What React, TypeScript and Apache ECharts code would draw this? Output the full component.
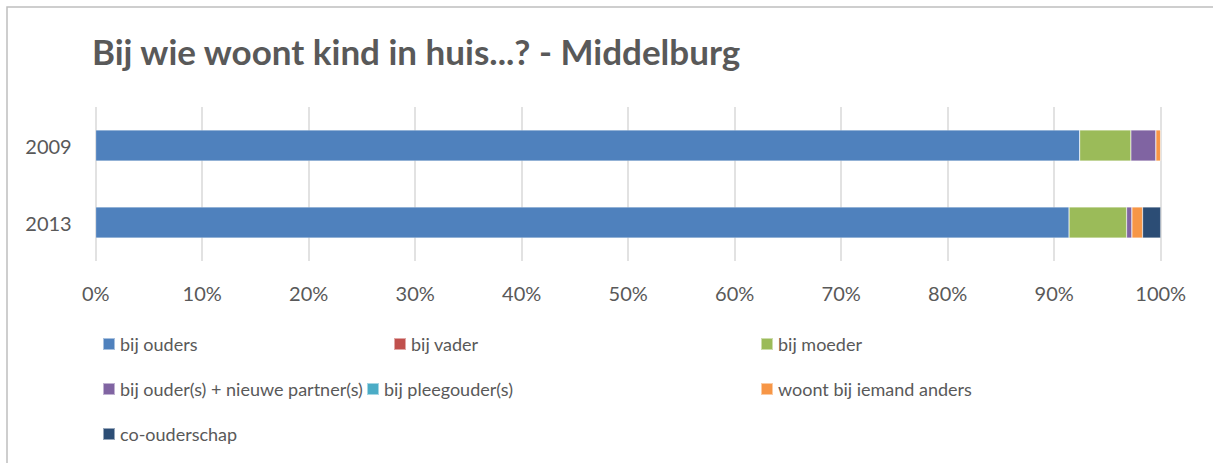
import React, { useEffect, useRef } from "react";
import * as echarts from "echarts";

const categories = ["2009", "2013"];
const seriesNames = [
  "bij ouders",
  "bij vader",
  "bij moeder",
  "bij ouder(s) + nieuwe partner(s)",
  "bij pleegouder(s)",
  "woont bij iemand anders",
  "co-ouderschap",
];
const bijOuders = [92.4, 91.4];
const bijVader = [0, 0];
const bijMoeder = [4.8, 5.4];
const nieuwePartner = [2.35, 0.5];
const pleegouder = [0, 0];
const iemandAnders = [0.45, 1.0];
const coOuderschap = [0, 1.7];
const xTicks = [0, 10, 20, 30, 40, 50, 60, 70, 80, 90, 100];

const colors = ["#4F81BD", "#C0504D", "#9BBB59", "#8064A2", "#4BACC6", "#F79646", "#2C4D75"];
const FONT = "Lato, 'Open Sans', sans-serif";
const TXT = "#595959";

export default function App() {
  const ref = useRef<HTMLDivElement>(null);
  useEffect(() => {
    if (!ref.current) return;
    const chart = echarts.init(ref.current, null, { renderer: "svg" });
    const values = [bijOuders, bijVader, bijMoeder, nieuwePartner, pleegouder, iemandAnders, coOuderschap];
    const legendPos = [
      [102, 346],
      [393, 346],
      [760, 346],
      [102, 391],
      [366, 391],
      [760, 391],
      [102, 436],
    ];
    chart.setOption({
      animation: false,
      backgroundColor: "#ffffff",
      title: {
        text: "Bij wie woont kind in huis...? - Middelburg",
        left: 87,
        top: 28,
        textStyle: { fontFamily: FONT, fontWeight: "bold", fontSize: 35, color: TXT },
      },
      graphic: [
        {
          type: "rect",
          shape: { x: 7, y: 7, width: 1400, height: 600 },
          style: { fill: "none", stroke: "#BFBFBF", lineWidth: 1.5 },
          silent: true,
        },
      ],
      legend: seriesNames.map((n, i) => ({
        data: [n],
        left: legendPos[i][0],
        top: legendPos[i][1] - 11,
        icon: "rect",
        itemWidth: 12,
        itemHeight: 12,
        itemGap: 5,
        padding: 0,
        textStyle: { fontFamily: FONT, fontSize: 18, color: TXT },
      })),
      grid: { left: 95.7, right: 52.3, top: 107, bottom: 202, containLabel: false },
      xAxis: {
        type: "value",
        min: 0,
        max: 100,
        interval: 10,
        axisLine: { show: false },
        axisTick: { show: false },
        splitLine: { show: true, lineStyle: { color: "#D9D9D9", width: 1.5 } },
        axisLabel: {
          margin: 22,
          fontFamily: FONT,
          fontSize: 20,
          color: TXT,
          formatter: (v: number) => (xTicks.includes(v) ? v + "%" : ""),
        },
      },
      yAxis: {
        type: "category",
        data: categories,
        inverse: true,
        axisLine: { show: false },
        axisTick: { show: false },
        axisLabel: { margin: 24, fontFamily: FONT, fontSize: 20, color: TXT },
      },
      series: seriesNames.map((n, i) => ({
        name: n,
        type: "bar",
        stack: "total",
        barWidth: 31,
        itemStyle: { color: colors[i], borderColor: "rgba(255,255,255,0.5)", borderWidth: 0.5 },
        data: values[i],
      })),
    });
    return () => chart.dispose();
  }, []);
  return (
    <div
      ref={ref}
      style={{ position: "fixed", left: 0, top: 0, width: 1213, height: 463 }}
    />
  );
}
